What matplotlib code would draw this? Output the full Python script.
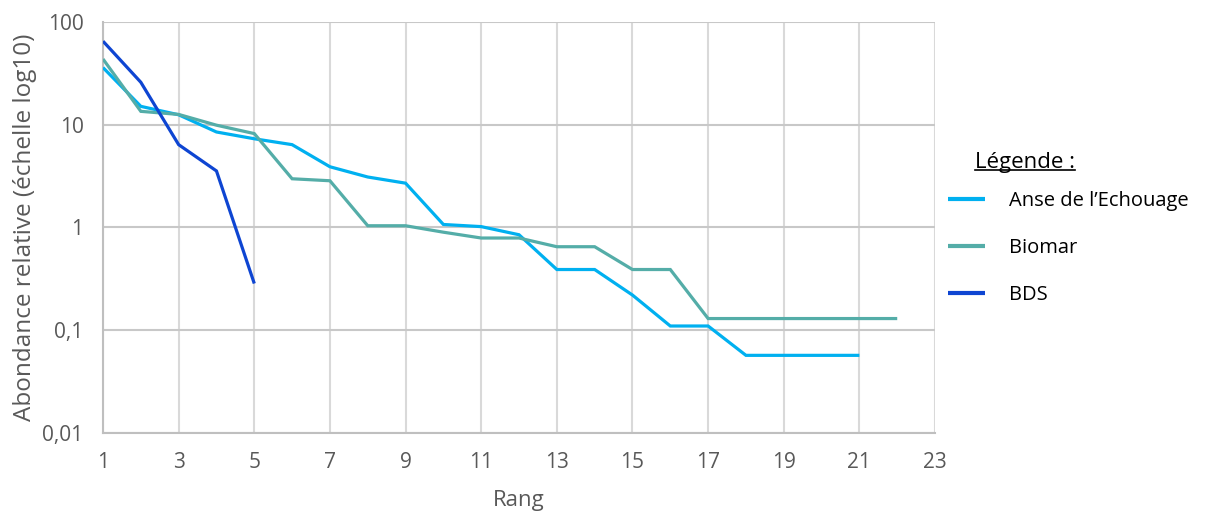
import matplotlib
matplotlib.use("Agg")
from matplotlib import pyplot as plt
from matplotlib.lines import Line2D
from matplotlib.ticker import FixedLocator, FuncFormatter

plt.rcParams['font.family'] = ['Open Sans', 'DejaVu Sans']

# rank-abundance data (relative abundance, %)
anse_rang = list(range(1, 22))
anse_abond = [36, 15.1, 12.5, 8.5, 7.3, 6.4, 3.9, 3.1, 2.7, 1.07, 1.02, 0.85,
              0.39, 0.39, 0.22, 0.11, 0.11, 0.057, 0.057, 0.057, 0.057]

biomar_rang = list(range(1, 23))
biomar_abond = [43.6, 13.5, 12.6, 9.9, 8.2, 2.98, 2.85, 1.04, 1.04, 0.9, 0.79,
                0.79, 0.65, 0.65, 0.39, 0.39, 0.13, 0.13, 0.13, 0.13, 0.13, 0.13]

bds_rang = [1, 2, 3, 4, 5]
bds_abond = [65, 25.9, 6.4, 3.55, 0.285]

noms = ["Anse de l\u2019Echouage", "Biomar", "BDS"]
couleurs = ["#00B0F0", "#54ADA8", "#0E45D2"]

fig = plt.figure(figsize=(12.09, 5.11), dpi=100)
ax = fig.add_axes([0.0852, 0.1526, 0.6882, 0.8044])

for x, y, nom, c in zip([anse_rang, biomar_rang, bds_rang],
                        [anse_abond, biomar_abond, bds_abond], noms, couleurs):
    ax.plot(x, y, color=c, lw=2.3, label=nom, solid_capstyle='butt',
            solid_joinstyle='miter', zorder=3)

ax.set_yscale('log')
ax.set_ylim(0.01, 100)
ax.set_xlim(1, 23)
ax.xaxis.set_major_locator(FixedLocator(range(1, 24, 2)))
ax.yaxis.set_major_locator(FixedLocator([0.01, 0.1, 1, 10, 100]))
ax.yaxis.set_minor_locator(FixedLocator([]))
ax.yaxis.set_major_formatter(FuncFormatter(
    lambda v, p: ('%g' % v).replace('.', ',')))

ax.grid(axis='x', color='#D9D9D9', lw=1.5)
ax.grid(axis='y', color='#C8C8C8', lw=1.5)
ax.set_axisbelow(True)
for s in ['top', 'right']:
    ax.spines[s].set_visible(False)
for s in ['left', 'bottom']:
    ax.spines[s].set_color('#BFBFBF')
    ax.spines[s].set_linewidth(1.5)
ax.tick_params(length=0, labelsize=15, labelcolor='#595959', pad=14)

ax.set_xlabel("Rang", fontsize=16, color='#595959', labelpad=12)
ax.set_ylabel("Abondance relative (\u00e9chelle log10)", fontsize=17.5,
              color='#595959', labelpad=4)

leg = ax.legend(loc='upper left', bbox_to_anchor=(0.784, 0.627),
                bbox_transform=fig.transFigure, frameon=False,
                fontsize=14.5, handlelength=1.84, handletextpad=1.2,
                labelspacing=1.35, borderpad=0, borderaxespad=0)
for h in leg.get_lines():
    h.set_linewidth(3)

titre = fig.text(0.8065, 0.682, "L\u00e9gende :", fontsize=16, va='center')
fig.canvas.draw()
bb = titre.get_window_extent().transformed(fig.transFigure.inverted())
fig.add_artist(Line2D([bb.x0, bb.x1], [bb.y0 + 0.006, bb.y0 + 0.006],
                      color='black', lw=1.2, transform=fig.transFigure))

fig.savefig("out.png", dpi=100)
